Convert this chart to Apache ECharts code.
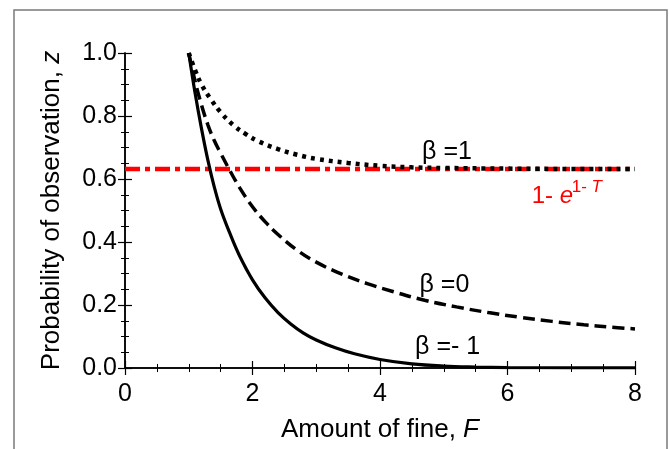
<!DOCTYPE html>
<html>
<head>
<meta charset="utf-8">
<script src="https://cdn.jsdelivr.net/npm/echarts@6/dist/echarts.min.js"></script>
<style>
  html, body { margin: 0; padding: 0; background: #fff; }
  #main { width: 669px; height: 449px; }
</style>
</head>
<body>
<div id="main"></div>
<script>
//////////// 데이터 ////////////
// beta = 1 (dotted)
var dotF = [1.0, 1.1, 1.2, 1.35, 1.5, 1.7, 1.9, 2.1, 2.4, 2.7, 3.0, 3.5, 4.0, 4.5, 5.0, 6.0, 7.0, 8.0];
var dotZ = [1.0, 0.945, 0.9, 0.852, 0.812, 0.771, 0.742, 0.719, 0.695, 0.677, 0.664, 0.651, 0.642, 0.637, 0.635, 0.633, 0.632, 0.632];

// beta = 0 (dashed)
var dashF = [1.0, 1.1, 1.2, 1.3, 1.4, 1.5, 1.65, 1.8, 2.0, 2.2, 2.4, 2.7, 3.0, 3.4, 3.8, 4.2, 4.7, 5.2, 5.7, 6.2, 6.7, 7.2, 7.6, 8.0];
var dashZ = [1.0, 0.91, 0.835, 0.772, 0.722, 0.682, 0.625, 0.572, 0.512, 0.464, 0.424, 0.374, 0.336, 0.298, 0.268, 0.243, 0.215, 0.194, 0.176, 0.161, 0.148, 0.137, 0.130, 0.124];

// beta = -1 (solid)
var solidF = [1.0, 1.1, 1.2, 1.3, 1.4, 1.5, 1.65, 1.8, 2.0, 2.2, 2.4, 2.6, 2.8, 3.0, 3.3, 3.6, 4.0, 4.5, 5.0, 5.5, 6.0, 7.0, 8.0];
var solidZ = [1.0, 0.872, 0.76, 0.66, 0.575, 0.505, 0.425, 0.355, 0.28, 0.222, 0.176, 0.14, 0.111, 0.089, 0.064, 0.045, 0.027, 0.013, 0.006, 0.003, 0.0015, 0.0004, 0.0001];

// 1 - e^(1-T) level
var refF = [0, 8];
var refZ = [0.632, 0.632];

// axis ticks
var xTicks = [0, 2, 4, 6, 8];
var yTicks = [0, 0.2, 0.4, 0.6, 0.8, 1.0];

//////////// 유틸 ////////////
function zip(xs, ys) {
	var out = [];
	for (var i = 0; i < xs.length; i++) out.push([xs[i], ys[i]]);
	return out;
}

//////////// 차트 ////////////
var FONT = '"Liberation Sans", Arial, sans-serif';
var chart = echarts.init(document.getElementById('main'));

var tickStyle = {
	axisLine: { show: true, lineStyle: { color: '#000', width: 1.5 } },
	axisTick: { show: true, inside: true, length: 7, lineStyle: { color: '#000', width: 1.2 } },
	minorTick: { show: true, splitNumber: 4, length: 4, lineStyle: { color: '#000', width: 1 } },
	splitLine: { show: false }
};

function axis(extra) {
	return Object.assign({}, JSON.parse(JSON.stringify(tickStyle)), extra);
}

var nameRich = {
	n: { fontFamily: FONT, fontSize: 26, color: '#000' },
	i: { fontFamily: FONT, fontSize: 26, color: '#000', fontStyle: 'italic' }
};

var option = {
	animation: false,
	grid: { left: 125, right: 34, top: 53, bottom: 81 },
	xAxis: [
		axis({
			type: 'value', min: xTicks[0], max: xTicks[xTicks.length - 1], interval: 2,
			position: 'bottom',
			name: '{n|Amount of fine, }{i|F}',
			nameLocation: 'middle', nameGap: 49,
			nameTextStyle: { rich: nameRich },
			axisLabel: { margin: 14, color: '#000', fontFamily: FONT, fontSize: 25,
				formatter: function (v) { return String(v); } }
		}),
		axis({
			type: 'value', min: xTicks[0], max: xTicks[xTicks.length - 1], interval: 2,
			position: 'top', axisLabel: { show: false }
		})
	],
	yAxis: [
		axis({
			type: 'value', min: yTicks[0], max: yTicks[yTicks.length - 1], interval: 0.2,
			position: 'left',
			name: '{n|Probability of observation, }{i|z}',
			nameLocation: 'middle', nameGap: 60,
			nameTextStyle: { rich: nameRich },
			axisLabel: { margin: 8, color: '#000', fontFamily: FONT, fontSize: 25,
				formatter: function (v) { return v.toFixed(1); } }
		}),
		axis({
			type: 'value', min: yTicks[0], max: yTicks[yTicks.length - 1], interval: 0.2,
			position: 'right', axisLabel: { show: false }
		})
	],
	series: [
		{
			name: 'ref', type: 'line', data: zip(refF, refZ), symbol: 'none',
			lineStyle: { color: '#ff0000', width: 4.5, type: [15, 5, 5, 5] },
			z: 2
		},
		{
			name: 'beta=1', type: 'line', data: zip(dotF, dotZ), symbol: 'none',
			smooth: 0.4,
			lineStyle: { color: '#000', width: 4.5, type: [4, 5] },
			z: 3
		},
		{
			name: 'beta=0', type: 'line', data: zip(dashF, dashZ), symbol: 'none',
			smooth: 0.4,
			lineStyle: { color: '#000', width: 3.5, type: [12, 6] },
			z: 3
		},
		{
			name: 'beta=-1', type: 'line', data: zip(solidF, solidZ), symbol: 'none',
			smooth: 0.4,
			lineStyle: { color: '#000', width: 3.2, type: 'solid' },
			z: 3
		}
	]
};

chart.setOption(option);

//////////// 주석 ////////////
// 곡선 이름 (데이터 좌표 기준)
var notes = [
	{ text: 'β =1', at: [4.66, 0.686] },
	{ text: 'β =0', at: [4.62, 0.263] },
	{ text: 'β =- 1', at: [4.55, 0.067] }
];

var elements = [{
	type: 'rect', silent: true,
	shape: { x: 14, y: 10, width: 653, height: 460 },
	style: { fill: 'none', stroke: '#7a7a7a', lineWidth: 1.5 }
}];

notes.forEach(function (n) {
	var p = chart.convertToPixel({ gridIndex: 0 }, n.at);
	elements.push({
		type: 'text', x: p[0], y: p[1], z: 10,
		style: { text: n.text, fill: '#000', font: '25px ' + FONT, align: 'left', verticalAlign: 'middle' }
	});
});

// 1- e^{1- T}
var pf = chart.convertToPixel({ gridIndex: 0 }, [6.38, 0.546]);
elements.push({
	type: 'text', x: pf[0], y: pf[1], z: 10,
	style: {
		text: '{n|1- }{i|e}', align: 'left', verticalAlign: 'middle',
		rich: {
			n: { fontFamily: FONT, fontSize: 24, fill: '#ff0000' },
			i: { fontFamily: FONT, fontSize: 24, fill: '#ff0000', fontStyle: 'italic' }
		}
	}
});
elements.push({
	type: 'text', x: pf[0] + 40, y: pf[1] - 9, z: 10,
	style: {
		text: '{n|1- }{i|T}', align: 'left', verticalAlign: 'middle',
		rich: {
			n: { fontFamily: FONT, fontSize: 17, fill: '#ff0000' },
			i: { fontFamily: FONT, fontSize: 17, fill: '#ff0000', fontStyle: 'italic' }
		}
	}
});

chart.setOption({ graphic: { elements: elements } });
</script>
</body>
</html>
